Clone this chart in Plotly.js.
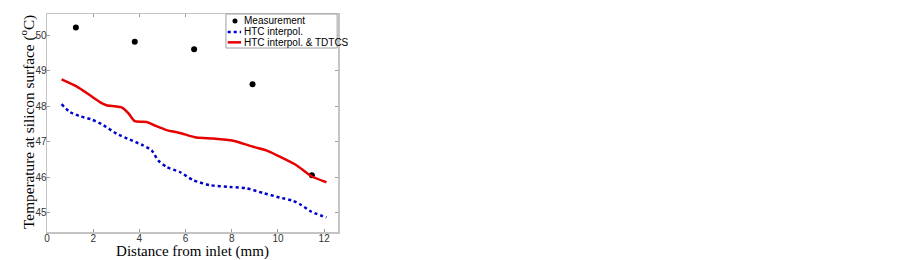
<!DOCTYPE html>
<html>
<head>
<meta charset="utf-8">
<script src="https://cdn.plot.ly/plotly-3.0.1.min.js"></script>
<style>html,body{margin:0;padding:0;background:#fff;}#chart{width:903px;height:260px;}</style>
</head>
<body>
<div id="chart"></div>
<script>
// Measurement points
const measX = [1.25, 3.8, 6.37, 8.9, 11.47];
const measY = [50.22, 49.82, 49.61, 48.62, 46.06];

// HTC interpol. (blue dotted)
const htcX = [0.63, 0.99, 1.43, 1.93, 2.44, 3.01, 3.59, 4.16, 4.53, 4.81, 5.18, 5.75, 6.33, 7.05, 7.91, 8.64, 9.35, 10.08, 10.65, 11.01, 11.45, 12.1];
const htcY = [48.06, 47.84, 47.72, 47.63, 47.47, 47.23, 47.06, 46.9, 46.76, 46.48, 46.29, 46.15, 45.92, 45.78, 45.73, 45.69, 45.56, 45.43, 45.34, 45.22, 45.03, 44.87];

// HTC interpol. & TDTCS (red solid)
const tdX = [0.63, 1.28, 1.86, 2.29, 2.58, 2.94, 3.23, 3.52, 3.8, 4.31, 4.74, 5.18, 5.75, 6.47, 7.19, 8.06, 8.49, 8.92, 9.5, 10.08, 10.8, 11.45, 12.1];
const tdY = [48.76, 48.56, 48.31, 48.12, 48.03, 48.0, 47.97, 47.81, 47.58, 47.56, 47.44, 47.33, 47.25, 47.12, 47.09, 47.03, 46.95, 46.86, 46.76, 46.58, 46.34, 46.03, 45.86];

const xTicks = [0, 2, 4, 6, 8, 10, 12];
const yTicks = [45, 46, 47, 48, 49, 50];
const seriesNames = ['Measurement', 'HTC interpol.', 'HTC interpol. & TDTCS'];
const seriesColors = ['#000000', '#0000cc', '#e60000'];
const xTitle = 'Distance from inlet (mm)';
const yTitle = 'Temperature at silicon surface (<sup>o</sup>C)';

const traces = [
  {x: measX, y: measY, mode: 'markers', type: 'scatter', name: seriesNames[0],
   marker: {color: seriesColors[0], size: 6}},
  {x: htcX, y: htcY, mode: 'lines', type: 'scatter', name: seriesNames[1],
   line: {color: seriesColors[1], width: 2.5, dash: 'dot', shape: 'spline', smoothing: 0.6}},
  {x: tdX, y: tdY, mode: 'lines', type: 'scatter', name: seriesNames[2],
   line: {color: seriesColors[2], width: 2.5, shape: 'spline', smoothing: 0.6}}
];

const axisCommon = {
  showline: true, linecolor: '#c4c4c4', linewidth: 1.5, mirror: 'ticks',
  ticks: 'inside', ticklen: 3, tickcolor: '#9a9a9a', tickwidth: 1,
  showgrid: false, zeroline: false,
  tickfont: {family: 'Arial, Liberation Sans, sans-serif', size: 10, color: '#333'}
};

// Compact legend (box + samples + labels) placed in paper coordinates
const legFont = {family: 'Arial, Liberation Sans, sans-serif', size: 10, color: '#000'};
const legBox = {x0: 0.615, x1: 0.997, y0: 0.844, y1: 1.0};
const legRows = [0.968, 0.918, 0.870];
const legSample = {x0: 0.621, x1: 0.667, xc: 0.646};
const legTextX = 0.670;

const shapes = [
  {type: 'rect', xref: 'paper', yref: 'paper', x0: legBox.x0, x1: legBox.x1, y0: legBox.y0, y1: legBox.y1,
   line: {color: '#a0a0a0', width: 1}, fillcolor: '#ffffff', layer: 'above'},
  {type: 'circle', xref: 'paper', yref: 'paper', xsizemode: 'pixel', ysizemode: 'pixel',
   xanchor: legSample.xc, yanchor: legRows[0], x0: -2.5, x1: 2.5, y0: -2.5, y1: 2.5,
   fillcolor: seriesColors[0], line: {color: seriesColors[0], width: 0}, layer: 'above'},
  {type: 'line', xref: 'paper', yref: 'paper', x0: legSample.x0, x1: legSample.x1, y0: legRows[1], y1: legRows[1],
   line: {color: seriesColors[1], width: 2.5, dash: 'dot'}, layer: 'above'},
  {type: 'line', xref: 'paper', yref: 'paper', x0: legSample.x0, x1: legSample.x1, y0: legRows[2], y1: legRows[2],
   line: {color: seriesColors[2], width: 2.5}, layer: 'above'}
];

const annotations = seriesNames.map((n, i) => ({
  text: n, xref: 'paper', yref: 'paper', x: legTextX, y: legRows[i],
  xanchor: 'left', yanchor: 'middle', showarrow: false, font: legFont
}));
// y-axis title
annotations.push({
  text: yTitle, xref: 'paper', yref: 'paper', x: 0, y: 0.505, xshift: -20,
  xanchor: 'center', yanchor: 'middle', textangle: -90, showarrow: false,
  font: {family: 'Liberation Serif, Times New Roman, serif', size: 15.3, color: '#000'}
});

const layout = {
  width: 903, height: 260,
  margin: {l: 47, r: 565, t: 14, b: 28},
  paper_bgcolor: '#fff', plot_bgcolor: '#fff',
  showlegend: false,
  shapes: shapes,
  annotations: annotations,
  xaxis: Object.assign({}, axisCommon, {
    range: [0, 12.6], tickvals: xTicks, ticktext: xTicks.map(String),
    ticklabelstandoff: -4,
    title: {text: xTitle, standoff: 5,
      font: {family: 'Liberation Serif, Times New Roman, serif', size: 15, color: '#000'}}
  }),
  yaxis: Object.assign({}, axisCommon, {
    range: [44.46, 50.6], tickvals: yTicks, ticktext: yTicks.map(String),
    ticklabelstandoff: -3
  })
};

Plotly.newPlot('chart', traces, layout, {displayModeBar: false, staticPlot: true});
</script>
</body>
</html>
